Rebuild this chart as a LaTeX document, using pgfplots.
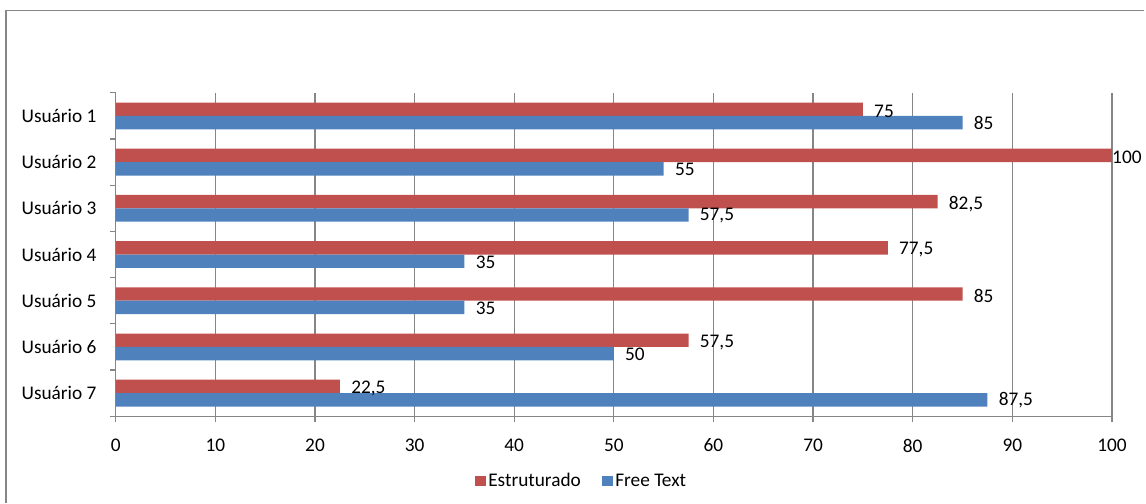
\documentclass[border=0pt]{standalone}
\usepackage{pgfplots}
\pgfplotsset{compat=1.18}
\usepackage{pgfplotstable}
\usepackage{fontspec}
\setmainfont{Carlito}
\definecolor{estr}{HTML}{C0504D}
\definecolor{free}{HTML}{4F81BD}
\definecolor{gridc}{HTML}{868686}
\newcommand{\chartfont}{\fontsize{14.5}{17}\selectfont}
\pgfplotstableread{
y est estdx free freedx
6 75 5 85 5
5 100 -3.3 55 5
4 82.5 5 57.5 5
3 77.5 5 35 5
2 85 5 35 5
1 57.5 5 50 5
0 22.5 5 87.5 5
}\datatable
\begin{document}
\begin{tikzpicture}
\begin{scope}[x=0.75pt,y=0.75pt]
\path[use as bounding box] (0,0) rectangle (1146,-504);
\draw[gridc, line width=0.9pt] (6,-504) -- (6,-10.5) -- (1146,-10.5);
\end{scope}
\begin{axis}[
  at={(87pt,-312.75pt)}, anchor=south west, scale only axis,
  width=748.5pt, height=243pt,
  xmin=0, xmax=100, ymin=-0.5, ymax=6.5,
  xtick={0,10,...,100},
  ytick={0,...,6},
  yticklabels={Usuário 7,Usuário 6,Usuário 5,Usuário 4,Usuário 3,Usuário 2,Usuário 1},
  minor ytick={-0.5,0.5,...,6.5},
  major y tick style={draw=none},
  minor tick length=4.5pt, major tick length=4.5pt,
  tick align=outside,
  tick style={gridc, line width=0.9pt},
  axis x line*=bottom, axis y line*=left,
  axis line style={gridc, line width=0.9pt, -},
  xmajorgrids, major x grid style={gridc, line width=0.9pt},
  /pgf/number format/use comma,
  /pgf/number format/assume math mode=true,
  every tick label/.append style={font=\chartfont, text=black},
  xticklabel style={yshift=-9pt},
  yticklabel style={xshift=-6.5pt},
  legend style={draw=none, fill=none, at={(0.468,-0.2)}, anchor=center,
    font=\chartfont, legend columns=-1,
    /tikz/every even column/.append style={column sep=14pt}},
  legend image code/.code={\fill[#1] (0pt,-3.9pt) rectangle (7.9pt,3.9pt);},
  clip=false,
]
\addplot[xbar, bar width=0.29, bar shift=0.145, fill=estr, draw=none,
  point meta=x, nodes near coords,
  visualization depends on={\thisrow{estdx} \as \dx},
  nodes near coords style={anchor=west, xshift=\dx pt, yshift=3.5pt, font=\chartfont, text=black}]
  table[x=est, y=y] {\datatable};
\addlegendentry{Estruturado}
\addplot[xbar, bar width=0.29, bar shift=-0.145, fill=free, draw=none,
  point meta=x, nodes near coords,
  visualization depends on={\thisrow{freedx} \as \dx},
  nodes near coords style={anchor=west, xshift=\dx pt, yshift=-5.5pt, font=\chartfont, text=black}]
  table[x=free, y=y] {\datatable};
\addlegendentry{Free Text}
\end{axis}
\end{tikzpicture}
\end{document}
